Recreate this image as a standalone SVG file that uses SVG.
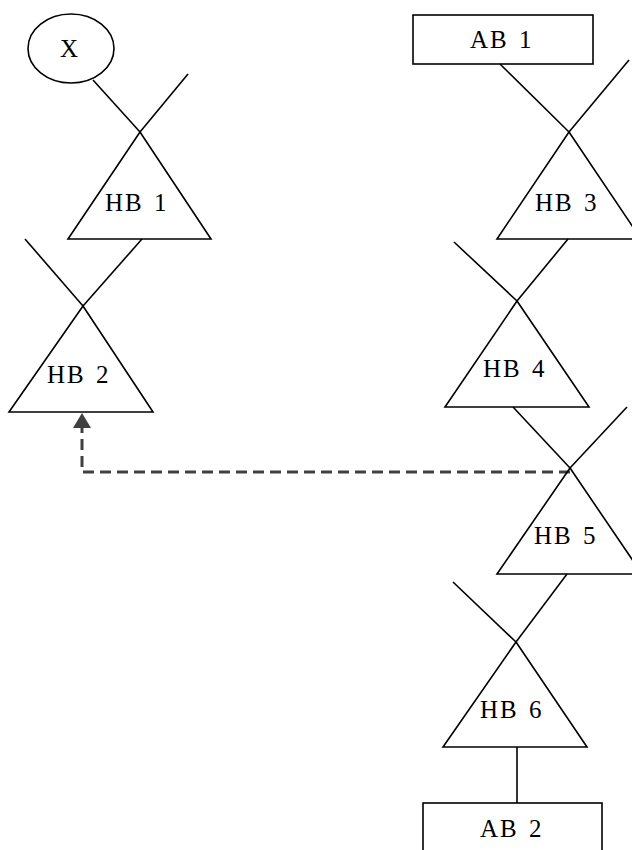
<svg xmlns="http://www.w3.org/2000/svg" width="632" height="850" viewBox="0 0 632 850">
<style>
.s{fill:none;stroke:#000;stroke-width:1.6;stroke-linejoin:miter}
.t{font-family:"Liberation Serif","Times New Roman",serif;font-size:25px;letter-spacing:2px;word-spacing:2px;fill:#000}
.d{fill:none;stroke:#404040;stroke-width:3;stroke-dasharray:11,6}
</style>
<rect width="632" height="850" fill="#fff"/>
<g id="connectors">
<line class="s" x1="93" y1="80" x2="140" y2="132"/>
<line class="s" x1="188" y1="74" x2="140" y2="132"/>
<line class="s" x1="25" y1="239" x2="83" y2="306"/>
<line class="s" x1="142" y1="239" x2="83" y2="306"/>
<line class="s" x1="500" y1="64" x2="569" y2="132"/>
<line class="s" x1="629" y1="60" x2="569" y2="132"/>
<line class="s" x1="454" y1="242" x2="517" y2="301"/>
<line class="s" x1="568" y1="239" x2="517" y2="301"/>
<line class="s" x1="513" y1="407" x2="570" y2="468"/>
<line class="s" x1="627" y1="407" x2="570" y2="468"/>
<line class="s" x1="453" y1="582" x2="516" y2="642"/>
<line class="s" x1="567" y1="574" x2="516" y2="642"/>
<line class="s" x1="517" y1="747" x2="517" y2="803"/>
<path class="d" d="M570,472 H82 V428"/>
<polygon points="82,413 73,428 91,428" fill="#404040"/>
</g>
<g id="X">
<ellipse class="s" cx="71" cy="48.5" rx="43" ry="34.5"/>
<text class="t" x="60" y="57">X</text>
</g>
<g id="AB1">
<rect class="s" x="413" y="15" width="180" height="49"/>
<text class="t" x="470" y="48">AB 1</text>
</g>
<g id="HB1">
<polygon class="s" points="140,132 68,239 211,239"/>
<text class="t" x="105" y="211">HB 1</text>
</g>
<g id="HB2">
<polygon class="s" points="83,306 9,412 153,412"/>
<text class="t" x="47" y="383">HB 2</text>
</g>
<g id="HB3">
<polygon class="s" points="569,132 497,239 641,239"/>
<text class="t" x="535" y="211">HB 3</text>
</g>
<g id="HB4">
<polygon class="s" points="517,301 445,407 589,407"/>
<text class="t" x="483" y="377">HB 4</text>
</g>
<g id="HB5">
<polygon class="s" points="570,468 497,574 642,574"/>
<text class="t" x="534" y="544">HB 5</text>
</g>
<g id="HB6">
<polygon class="s" points="516,642 443,747 587,747"/>
<text class="t" x="480" y="718">HB 6</text>
</g>
<g id="AB2">
<rect class="s" x="423" y="803" width="179" height="60"/>
<text class="t" x="480" y="837">AB 2</text>
</g>
</svg>
